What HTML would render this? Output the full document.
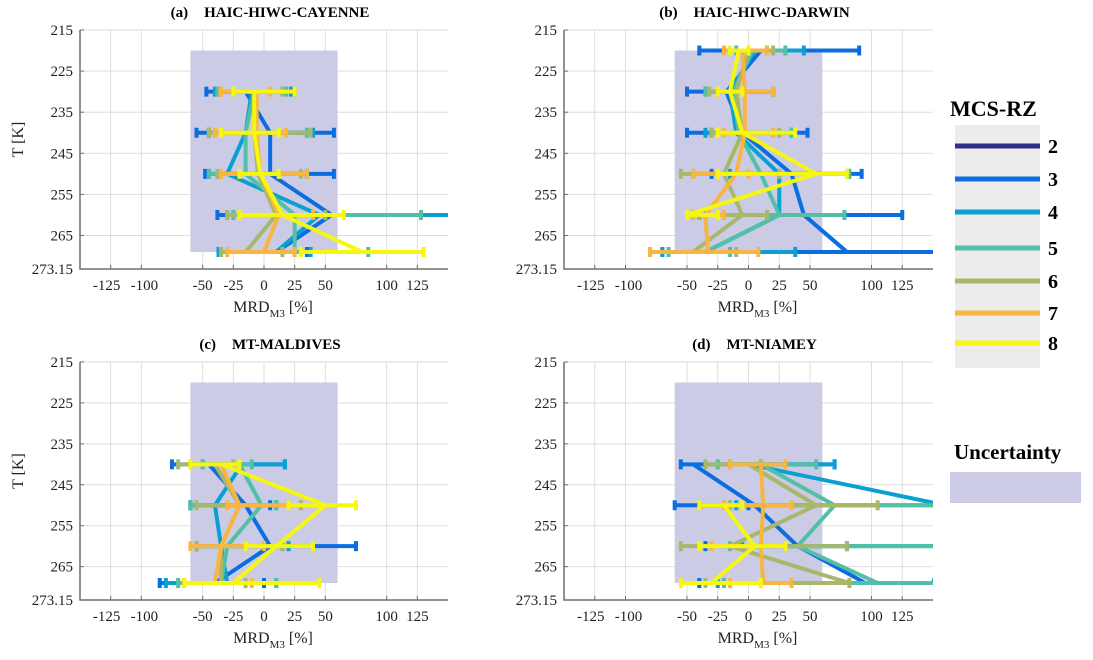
<!DOCTYPE html>
<html><head><meta charset="utf-8"><style>
body{margin:0;background:#fff;}
svg{display:block;font-family:"Liberation Serif",serif;}
</style></head><body>
<svg id="chart" width="1093" height="660" viewBox="0 0 1093 660" xmlns="http://www.w3.org/2000/svg">
<defs></defs>
<g id="panels"></g>
<g id="legend">
  <text x="950" y="116" font-size="22" font-weight="bold">MCS-RZ</text>
  <rect x="955" y="125" width="85" height="243" fill="#ececec"/>
</g>
<g>
  <text x="954" y="459" font-size="21" font-weight="bold">Uncertainty</text>
  <rect x="950" y="472" width="131" height="31" fill="#cbcbe6"/>
</g>
</svg>
<script>
const seriesNames=["2","3","4","5","6","7","8"];
const seriesColors=["#2e2f8a","#0b6de0","#0aa0d2","#52bfa6","#a8b86a","#f8b640","#f6f70f"];
const xTicks=[-125,-100,-50,-25,0,25,50,100,125];
const yTicks=[215,225,235,245,255,265,273.15];
const yTickLabels=["215","225","235","245","255","265","273.15"];
const uncX=[-60,60];
const uncT=[220,269];
// panel (a)
const levelsA=[230,240,250,260,269];
const meanA=[[-15,5,5,55,10],[-10,-15,-30,45,10],[-8,-15,-15,25,25],[-8,-8,-5,10,-15],[-6,-6,-3,12,0],[-8,-8,-3,15,80]];
const loA=[[-47,-55,-48,-38,-37],[-40,-45,-45,-30,-37],[-38,-45,-45,-25,-35],[-36,-45,-38,-30,-35],[-35,-40,-35,-20,-30],[-25,-35,-20,-20,30]];
const hiA=[[25,57,57,160,35],[22,40,35,160,38],[18,35,35,128,85],[15,38,30,50,15],[5,18,35,40,25],[25,12,12,65,130]];
// panel (b)
const levelsB=[220,230,240,250,260,269];
const meanB=[[10,-18,-5,35,45,80],[5,-15,-10,25,25,-35],[3,-12,-8,10,25,-35],[0,-10,-5,-20,-5,-45],[-5,-3,-3,-10,-35,-33],[-8,-15,-5,55,-50,null]];
const loB=[[-40,-50,-50,-30,-40,-70],[-15,-35,-35,-15,-40,-70],[-10,-35,-30,-45,-35,-65],[-20,-32,-30,-55,-40,-80],[-20,-25,-20,-45,-45,-80],[-15,-25,-25,-25,-50,null]];
const hiB=[[90,20,48,92,125,160],[45,20,35,82,78,38],[30,20,35,82,78,-15],[20,20,25,25,15,-10],[15,20,20,0,-20,8],[0,-5,38,80,-25,null]];
// panel (c)
const levelsC=[240,250,260,269];
const meanC=[[-45,-15,5,-40],[-18,-40,-35,-30],[-20,-2,-30,-35],[-40,-20,-35,-35],[-35,-20,-35,-40],[-35,50,10,-25]];
const loC=[[-75,-60,-55,-85],[-50,-60,-55,-80],[-50,-60,-55,-70],[-70,-55,-55,-65],[-60,-30,-60,-65],[-60,20,-15,-65]];
const hiC=[[17,5,75,0],[17,10,20,10],[-10,10,15,10],[-25,30,15,-15],[-20,20,0,-10],[-20,75,40,45]];
// panel (d)
const levelsD=[240,250,260,269];
const meanD=[[-45,5,40,95],[0,160,160,150],[10,70,40,105],[0,55,-15,82],[10,12,10,12],[null,-20,5,-30]];
const loD=[[-55,-60,-35,-40],[-15,-10,-5,-25],[-25,-15,-15,-20],[-35,-15,-55,-35],[-15,-20,-30,-15],[null,-40,-40,-55]];
const hiD=[[70,0,80,160],[70,160,160,160],[55,160,160,160],[10,105,80,82],[30,35,30,35],[null,-5,30,10]];

const panels=[
 {id:"a",tag:"(a)",title:"HAIC-HIWC-CAYENNE",x0:80,x1:448,y0:30,y1:269,levels:levelsA,mean:meanA,lo:loA,hi:hiA,ylab:true},
 {id:"b",tag:"(b)",title:"HAIC-HIWC-DARWIN",x0:564,x1:933,y0:30,y1:269,levels:levelsB,mean:meanB,lo:loB,hi:hiB,ylab:false},
 {id:"c",tag:"(c)",title:"MT-MALDIVES",x0:80,x1:448,y0:362,y1:600,levels:levelsC,mean:meanC,lo:loC,hi:hiC,ylab:true},
 {id:"d",tag:"(d)",title:"MT-NIAMEY",x0:564,x1:933,y0:362,y1:600,levels:levelsD,mean:meanD,lo:loD,hi:hiD,ylab:false}
];
const NS="http://www.w3.org/2000/svg";
function mk(tag,attrs,parent){const e=document.createElementNS(NS,tag);for(const k in attrs)e.setAttribute(k,attrs[k]);parent.appendChild(e);return e;}
const root=document.getElementById("panels");
const defs=document.querySelector("defs");
panels.forEach(p=>{
 const sx=v=>p.x0+(v+150)/300*(p.x1-p.x0);
 const sy=t=>p.y0+(t-215)/58.15*(p.y1-p.y0);
 const g=mk("g",{},root);
 
 
 const cp=mk("clipPath",{id:"clip"+p.id},defs);
 mk("rect",{x:p.x0,y:p.y0-8,width:p.x1-p.x0,height:p.y1-p.y0+16},cp);
 xTicks.forEach(v=>{const l=mk("line",{x1:sx(v),x2:sx(v),y1:p.y0,y2:p.y1,stroke:"#dedede","stroke-width":1},g);
  });
 yTicks.forEach(t=>{const l=mk("line",{x1:p.x0,x2:p.x1,y1:sy(t),y2:sy(t),stroke:"#dedede","stroke-width":1},g);
  });
 const ub=mk("rect",{x:sx(uncX[0]),y:sy(uncT[0]),width:sx(uncX[1])-sx(uncX[0]),height:sy(uncT[1])-sy(uncT[0]),fill:"#cbcbe6"},g);
 
 const ax=mk("path",{d:`M${p.x0},${p.y0}V${p.y1}H${p.x1}`,fill:"none",stroke:"#6e6e6e","stroke-width":1.5},g);
 
 yTicks.forEach((t,i)=>{
  mk("line",{x1:p.x0,x2:p.x0+4,y1:sy(t),y2:sy(t),stroke:"#6e6e6e"},g);
  const tx=mk("text",{x:p.x0-7,y:sy(t)+5,"font-size":15,"text-anchor":"end",fill:"#222"},g);tx.textContent=yTickLabels[i];
  });
 xTicks.forEach(v=>{
  mk("line",{x1:sx(v),x2:sx(v),y1:p.y1,y2:p.y1-4,stroke:"#6e6e6e"},g);
  const tx=mk("text",{x:sx(v)+(v===-125?-4:v===-100?3:0),y:p.y1+21,"font-size":15,"text-anchor":"middle",fill:"#222"},g);tx.textContent=String(v);
  });
 const xl=mk("text",{x:sx(0)+9,y:p.y1+43,"font-size":16,"text-anchor":"middle",fill:"#222"},g);
 xl.innerHTML='MRD<tspan font-size="11" dy="5">M3</tspan><tspan dy="-5"> [%]</tspan>';
 
 if(p.ylab){const yl=mk("text",{x:0,y:0,"font-size":16,"text-anchor":"middle",fill:"#222",transform:`translate(${p.x0-57},${(p.y0+p.y1)/2-10}) rotate(-90)`},g);yl.textContent="T [K]";
  }
 const tt=mk("text",{x:(p.x0+p.x1)/2+6,y:p.y0-13,"font-size":15,"font-weight":"bold","text-anchor":"middle"},g);
 tt.innerHTML=p.tag+'<tspan dx="16">'+p.title+'</tspan>';
 
 const sg=mk("g",{"clip-path":`url(#clip${p.id})`},g);
 p.mean.forEach((ms,si)=>{
  const col=seriesColors[si+1];
  const s=mk("g",{},sg);
  
  
  let d="";
  ms.forEach((m,li)=>{if(m===null)return;d+=(d?"L":"M")+sx(m)+","+sy(p.levels[li]);});
  const ln=mk("path",{d:d,fill:"none",stroke:col,"stroke-width":4,"stroke-linejoin":"round"},s);
  
  ms.forEach((m,li)=>{
   const lo=p.lo[si][li],hi=p.hi[si][li];if(lo===null)return;
   const y=sy(p.levels[li]);
   const eb=mk("path",{d:`M${sx(lo)},${y}H${sx(hi)}M${sx(lo)},${y-5}V${y+5}M${sx(hi)},${y-5}V${y+5}`,fill:"none",stroke:col,"stroke-width":4},s);
   
  });
 });
});
const lg=document.getElementById("legend");
const legY=[146,179,212,248,281,313,343];
seriesNames.forEach((n,i)=>{
 const e=mk("g",{},lg);
 
 
 mk("rect",{x:955,y:legY[i]-2.5,width:85,height:5,fill:seriesColors[i]},e);
 const t=mk("text",{x:1048,y:legY[i]+7,"font-size":20,"font-weight":"bold"},e);t.textContent=n;
});
</script>
</body></html>
